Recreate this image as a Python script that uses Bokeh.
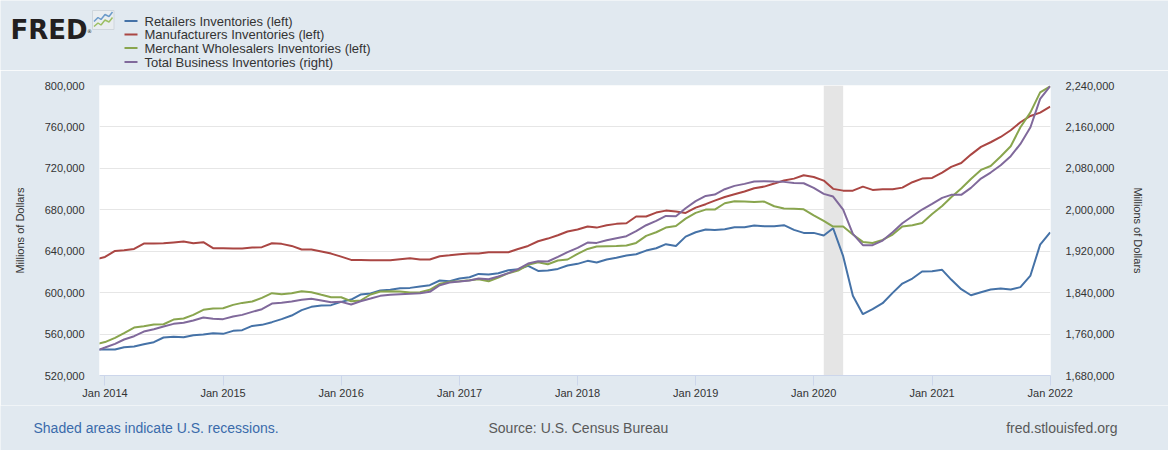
import pandas as pd
from datetime import datetime
from bokeh.plotting import figure
from bokeh.models import (Range1d, LinearAxis, FixedTicker, NumeralTickFormatter,
                          DatetimeTickFormatter)
from bokeh.core.properties import value
from bokeh.embed import file_html
from bokeh.resources import INLINE

# ---------------- data (millions of dollars, monthly, Dec 2013 .. Jan 2022) ----------------
dates = pd.date_range("2013-12-01", "2022-01-01", freq="MS")

retailers = [
    545.0, 545.1, 545.1, 547.3, 548.0, 550.2, 552.2, 556.7, 557.3, 557.0, 558.9, 559.6, 560.9,
    560.2, 563.1, 563.8, 567.9, 568.9, 571.5, 574.4, 577.9, 583.1, 586.3, 587.6, 587.9,
    591.1, 593.3, 598.2, 599.1, 602.0, 602.7, 604.3, 604.6, 606.0, 607.2, 611.7, 611.0,
    613.6, 614.9, 618.1, 617.5, 618.8, 621.7, 622.6, 625.8, 621.0, 621.3, 622.9, 626.2,
    627.8, 630.7, 629.1, 632.0, 633.6, 635.8, 637.1, 640.6, 642.9, 646.8, 645.1, 654.1,
    658.3, 660.9, 660.6, 661.2, 663.2, 663.2, 664.8, 664.1, 664.1, 665.1, 660.6, 657.7,
    657.7, 655.1, 662.2, 635.2, 596.9, 579.2, 584.0, 589.8, 599.8, 608.8, 613.6, 620.4,
    620.7, 622.0, 612.6, 603.3, 597.5, 600.4, 603.0, 604.0, 603.0, 605.3, 616.5, 646.4,
    658.3]

manufacturers = [
    632.0, 634.5, 640.3, 641.0, 642.2, 647.4, 647.4, 647.6, 648.5, 649.4, 647.7, 648.7, 642.9,
    642.9, 642.6, 642.6, 643.5, 643.9, 647.7, 647.1, 645.1, 641.6, 641.6, 639.7, 637.7,
    634.8, 631.6, 631.6, 631.3, 631.3, 631.3, 632.3, 633.2, 632.0, 632.0, 635.2, 636.1,
    637.1, 637.7, 637.7, 639.0, 639.0, 639.0, 642.2, 645.1, 649.6, 652.2, 655.4, 659.0,
    660.9, 663.8, 662.8, 665.1, 666.4, 667.0, 673.5, 673.5, 677.3, 679.2, 678.3, 677.0,
    682.1, 685.4, 688.9, 692.4, 695.0, 697.6, 700.8, 702.4, 705.3, 708.2, 710.1, 713.3,
    711.7, 708.2, 700.2, 698.5, 698.5, 702.4, 699.2, 699.8, 699.8, 701.4, 706.6, 710.1,
    710.8, 715.9, 721.4, 725.2, 733.3, 740.7, 745.2, 750.3, 756.8, 764.5, 770.6, 773.8,
    779.6]

wholesalers = [
    549.9, 552.3, 556.4, 560.9, 566.3, 567.6, 569.2, 569.5, 574.0, 575.0, 578.5, 583.4, 584.7,
    585.0, 588.2, 590.1, 591.4, 595.0, 599.5, 598.5, 599.5, 601.4, 600.4, 597.9, 595.6,
    595.6, 591.7, 592.4, 598.2, 601.1, 601.4, 601.1, 600.1, 600.5, 602.7, 608.5, 610.4,
    611.0, 612.0, 613.0, 611.0, 614.6, 618.8, 621.3, 626.8, 629.4, 627.4, 631.0, 632.0,
    637.4, 642.2, 644.5, 644.8, 645.1, 645.5, 648.0, 654.8, 658.3, 662.8, 664.4, 671.5,
    677.0, 680.2, 680.2, 686.3, 688.2, 687.9, 687.6, 687.9, 683.4, 681.2, 680.9, 680.5,
    674.7, 669.3, 663.8, 663.8, 656.1, 649.0, 648.0, 650.9, 656.1, 663.8, 665.1, 667.3,
    676.0, 683.7, 692.1, 700.5, 709.8, 718.5, 722.3, 731.4, 741.3, 759.7, 774.1, 793.4,
    799.2]

total_business = [
    1727.0, 1734.0, 1741.1, 1749.5, 1755.9, 1764.9, 1769.4, 1774.6, 1779.7, 1781.7, 1786.2, 1792.0, 1789.4,
    1788.8, 1793.9, 1797.1, 1802.9, 1808.1, 1819.0, 1820.3, 1822.9, 1826.1, 1828.0, 1824.8, 1821.6,
    1822.2, 1817.1, 1823.5, 1828.6, 1833.8, 1835.7, 1837.0, 1837.7, 1839.0, 1841.5, 1854.4, 1859.5,
    1861.5, 1863.4, 1867.3, 1866.0, 1871.1, 1877.6, 1885.3, 1896.2, 1900.7, 1900.1, 1909.1, 1918.1,
    1926.5, 1936.8, 1936.1, 1941.3, 1945.1, 1949.0, 1958.6, 1970.2, 1978.6, 1988.2, 1987.6, 2003.0,
    2016.6, 2026.8, 2029.4, 2039.7, 2046.2, 2050.0, 2054.5, 2055.2, 2054.5, 2053.9, 2051.9, 2051.3,
    2042.3, 2030.7, 2025.6, 2000.5, 1953.5, 1931.6, 1931.6, 1940.6, 1956.7, 1974.1, 1987.6, 2000.5,
    2011.4, 2023.0, 2028.8, 2028.8, 2042.3, 2060.3, 2071.9, 2086.0, 2103.4, 2127.2, 2159.4, 2214.1,
    2238.6]

series_names = ["Retailers Inventories (left)", "Manufacturers Inventories (left)",
                "Merchant Wholesalers Inventories (left)", "Total Business Inventories (right)"]
series_colors = ["#4572A7", "#AA4643", "#89A54E", "#80699B"]

recession_start = [datetime(2020, 2, 1)]
recession_end = [datetime(2020, 4, 1)]

left_ticks = [520000, 560000, 600000, 640000, 680000, 720000, 760000, 800000]
right_ticks = [1680000, 1760000, 1840000, 1920000, 2000000, 2080000, 2160000, 2240000]
x_tick_years = list(range(2014, 2023))

footer_texts = ["Shaded areas indicate U.S. recessions.", "Source: U.S. Census Bureau",
                "fred.stlouisfed.org"]

# ---------------- styling ----------------
BG = "#e1e9f0"
FONT = "Liberation Sans"
TXT = "#333333"
W = 1168
HEAD_H, MAIN_H, FOOT_H = 70, 335, 45


def blank(height):
    f = figure(width=W, height=height, output_backend="svg", toolbar_location=None,
               x_range=Range1d(0, W), y_range=Range1d(height, 0),
               x_axis_location=None, y_axis_location=None,
               min_border=0, min_border_left=0, min_border_right=0,
               min_border_top=0, min_border_bottom=0,
               background_fill_color=BG, border_fill_color=BG)
    f.outline_line_color = None
    f.grid.grid_line_color = None
    return f


# ---------------- header: logo + legend ----------------
head = blank(HEAD_H)
head.text(x=[10], y=[29], text=["FRED"], text_font=value("DejaVu Sans"),
          text_font_style="bold", text_font_size="26px", text_color="#231f20",
          text_baseline="alphabetic", text_align="left")
head.text(x=[86.5], y=[30], text=["®"], text_font=value("DejaVu Sans"),
          text_font_size="5px", text_color="#231f20",
          text_baseline="alphabetic", text_align="left")
head.quad(left=[92], right=[113.5], top=[10], bottom=[29], fill_color="#e9edf0",
          line_color="#cfd6dc", line_width=1)
head.line(x=[93.5, 97.5, 100.5, 104.5, 108.5, 112], y=[21, 17, 19, 14, 16, 11.5],
          line_color="#6c9bc9", line_width=1.5)
head.line(x=[93.5, 97.5, 100.5, 104.5, 108.5, 112], y=[26, 22.5, 24.5, 19.5, 21.5, 17],
          line_color="#9cbf63", line_width=1.5)

legend_rows = [20.5, 34, 47.5, 61.5]
head.segment(x0=[124] * 4, x1=[137] * 4, y0=legend_rows, y1=legend_rows,
             line_color=series_colors, line_width=2)
head.text(x=[144] * 4, y=legend_rows, text=series_names, text_font=value(FONT),
          text_font_size="13px", text_color=TXT, text_baseline="middle", text_align="left")

# ---------------- main chart ----------------
p = figure(width=W, height=MAIN_H, output_backend="svg", toolbar_location=None,
           x_axis_type="datetime",
           x_range=Range1d(datetime(2013, 12, 15), datetime(2022, 1, 2)),
           y_range=Range1d(left_ticks[0], left_ticks[-1]),
           min_border_left=99, min_border_right=118, min_border_top=15, min_border_bottom=30,
           background_fill_color="white", border_fill_color=BG)
p.outline_line_color = None
p.extra_y_ranges = {"right": Range1d(right_ticks[0], right_ticks[-1])}

p.xgrid.grid_line_color = None
p.ygrid.grid_line_color = "#e6e6e6"
p.ygrid.grid_line_width = 1

p.quad(left=recession_start, right=recession_end, bottom=left_ticks[0], top=left_ticks[-1],
       fill_color="#e5e5e5", line_color=None)

for vals, col in zip([retailers, manufacturers, wholesalers], series_colors[:3]):
    p.line(dates, [v * 1000 for v in vals], line_color=col, line_width=2)
p.line(dates, [v * 1000 for v in total_business], line_color=series_colors[3], line_width=2,
       y_range_name="right")

xa = p.xaxis[0]
xa.ticker = FixedTicker(ticks=[pd.Timestamp(f"{y}-01-01").value / 1e6 for y in x_tick_years])
xa.formatter = DatetimeTickFormatter(years="Jan %Y", months="Jan %Y", days="Jan %Y")
xa.axis_line_color = "#ccd6eb"
xa.major_tick_line_color = "#ccd6eb"
xa.major_tick_out = 10
xa.major_tick_in = 0
xa.minor_tick_line_color = None
xa.major_label_standoff = 1
xa.major_label_text_font = FONT
xa.major_label_text_font_size = "11px"
xa.major_label_text_color = TXT


def style_y(ax, standoff):
    ax.axis_line_color = None
    ax.major_tick_line_color = None
    ax.minor_tick_line_color = None
    ax.major_tick_out = 0
    ax.major_tick_in = 0
    ax.major_label_standoff = 15
    ax.major_label_text_font = FONT
    ax.major_label_text_font_size = "11px"
    ax.major_label_text_color = TXT
    ax.axis_label = "Millions of Dollars"
    ax.axis_label_text_font = FONT
    ax.axis_label_text_font_size = "11px"
    ax.axis_label_text_font_style = "normal"
    ax.axis_label_text_color = TXT
    ax.axis_label_standoff = standoff


ya = p.yaxis[0]
ya.ticker = FixedTicker(ticks=left_ticks)
ya.formatter = NumeralTickFormatter(format="0,0")
style_y(ya, 16)

ra = LinearAxis(y_range_name="right", ticker=FixedTicker(ticks=right_ticks),
                formatter=NumeralTickFormatter(format="0,0"))
style_y(ra, 15)
p.add_layout(ra, "right")

# ---------------- footer ----------------
foot = blank(FOOT_H)
foot.text(x=[33, 488, 1117], y=[22, 22, 22], text=footer_texts, text_font=value(FONT),
          text_font_size="14px", text_color=["#3a6bab", "#595959", "#595959"],
          text_baseline="middle", text_align=["left", "left", "right"])

# three independent roots stacked on the page (no frame alignment between them)
html = file_html([head, p, foot], INLINE)
html = html.replace("<body>", '<body style="background-color:%s;">' % BG, 1)
open("out.html", "w").write(html)
